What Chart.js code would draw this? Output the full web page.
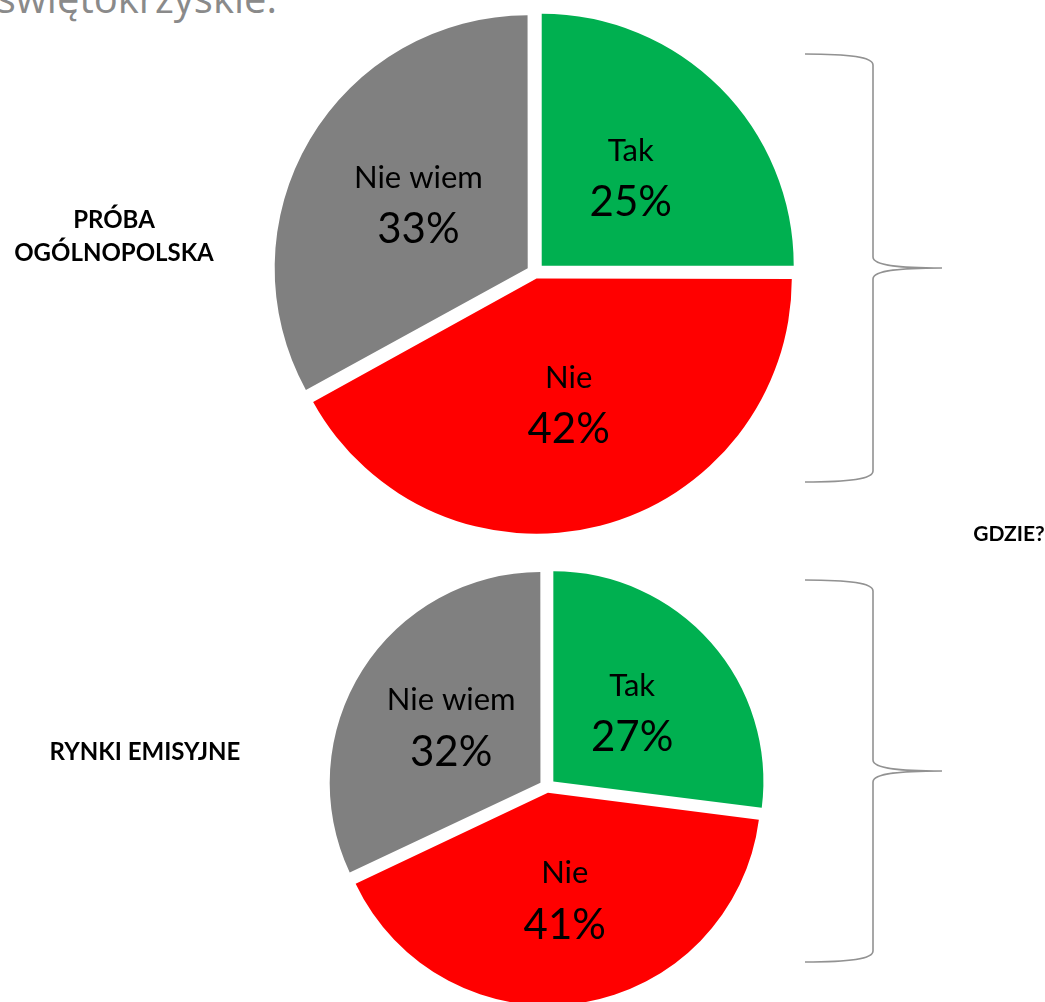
<!DOCTYPE html>
<html>
<head>
<meta charset="utf-8">
<script src="https://cdn.jsdelivr.net/npm/chart.js@4.4.1/dist/chart.umd.min.js"></script>
<style>
    body { margin: 0; background: #fff; }
    #page { position: relative; width: 1045px; height: 1002px; overflow: hidden; background: #fff; }
    .layer { position: absolute; left: 0; top: 0; width: 1045px; height: 1002px; }
    .side { position: absolute; font-family: Lato, sans-serif; font-weight: bold; font-size: 24px;
            color: #000; text-align: center; line-height: 33px; white-space: nowrap;
            transform: translate(-50%, -50%); }
    #title { position: absolute; right: 768px; top: -26px; font-family: "Open Sans", sans-serif;
             font-size: 40px; line-height: 48px; color: #8a8a8a; white-space: nowrap; }
</style>
</head>
<body>
<div id="page">
    <div id="title">województwo świętokrzyskie.</div>
    <div class="layer"><canvas id="topPie"></canvas></div>
    <div class="layer"><canvas id="bottomPie"></canvas></div>
    <div class="side" style="left:114px; top:235px;">PRÓBA<br>OGÓLNOPOLSKA</div>
    <div class="side" style="left:145px; top:750px;">RYNKI EMISYJNE</div>
    <div class="side" style="left:1009px; top:532px; font-size:21px;">GDZIE?</div>
</div>

<script>
// ---------- Data ----------

const categories = ["Tak", "Nie", "Nie wiem"];

const ogolnopolska = [25, 42, 33];

const rynkiEmisyjne = [27, 41, 32];

const colors = ["#00b050", "#ff0000", "#808080"];

// -------- Helpers --------

// chart.js moves an arc by offset/4 * (2 - sin(circ)), so work back from the wanted gap in px
function offsetFor(gap) {
    return function (ctx) {
        const data = ctx.dataset.data;
        const total = data.reduce((a, b) => a + b, 0);
        const circ = data[ctx.dataIndex] / total * Math.PI * 2;
        return 4 * gap / (2 - Math.sin(Math.min(Math.PI, circ)));
    };
}

const sliceLabels = {
    id: "sliceLabels",
    afterDatasetsDraw(chart, args, opts) {
        const ctx = chart.ctx;
        const meta = chart.getDatasetMeta(0);
        const values = chart.data.datasets[0].data;
        ctx.save();
        ctx.fillStyle = "#000";
        ctx.textAlign = "center";
        ctx.textBaseline = "middle";
        meta.data.forEach(function (arc, i) {
            const mid = (arc.startAngle + arc.endAngle) / 2;
            const r = arc.outerRadius / 2 + opts.gap;
            const x = arc.x + Math.cos(mid) * r;
            const y = arc.y + Math.sin(mid) * r;
            ctx.font = "31px Lato";
            ctx.fillText(chart.data.labels[i], x, y - 26);
            ctx.font = "42px Lato";
            ctx.fillText(values[i] + "%", x, y + 26);
        });
        ctx.restore();
    }
};

function drawBrace(ctx, b) {
    ctx.beginPath();
    ctx.moveTo(b.arm, b.top);
    ctx.bezierCurveTo(b.arm + 45, b.top, b.bar, b.top + 3, b.bar, b.top + 11);
    ctx.lineTo(b.bar, b.tip - 11);
    ctx.bezierCurveTo(b.bar, b.tip - 2, b.bar + 30, b.tip, b.end, b.tip);
    ctx.moveTo(b.end, b.tip);
    ctx.bezierCurveTo(b.bar + 30, b.tip, b.bar, b.tip + 2, b.bar, b.tip + 11);
    ctx.lineTo(b.bar, b.bottom - 11);
    ctx.bezierCurveTo(b.bar, b.bottom - 3, b.arm + 45, b.bottom, b.arm, b.bottom);
    ctx.stroke();
}

const braces = {
    id: "braces",
    afterDraw(chart, args, opts) {
        const ctx = chart.ctx;
        ctx.save();
        ctx.strokeStyle = "#929292";
        ctx.lineWidth = 1.6;
        drawBrace(ctx, opts);
        ctx.restore();
    }
};

// -------- Create Charts --------

function createPie(canvasId, values, padding, radius, gap, brace) {

    return new Chart(document.getElementById(canvasId), {

        type: "pie",

        data: {
            labels: categories,
            datasets: [{
                data: values,
                backgroundColor: colors,
                borderWidth: 0,
                offset: offsetFor(gap),
                hoverOffset: 0
            }]
        },

        options: {

            responsive: true,

            maintainAspectRatio: false,

            animation: false,

            events: [],

            radius: radius,

            layout: {
                padding: padding
            },

            plugins: {
                legend: { display: false },
                tooltip: { enabled: false },
                sliceLabels: { gap: gap },
                braces: brace
            }

        },

        plugins: [sliceLabels, braces]

    });

}

const topPie = createPie("topPie", ogolnopolska,
    { left: 25, right: 0, top: 0, bottom: 457 }, 252, 9.5,
    { arm: 805, bar: 873, end: 942, top: 54, tip: 268, bottom: 482 });

const bottomPie = createPie("bottomPie", rynkiEmisyjne,
    { left: 49, right: 0, top: 572, bottom: 0 }, 210, 8.5,
    { arm: 805, bar: 873, end: 942, top: 580, tip: 771, bottom: 962 });
</script>
</body>
</html>
